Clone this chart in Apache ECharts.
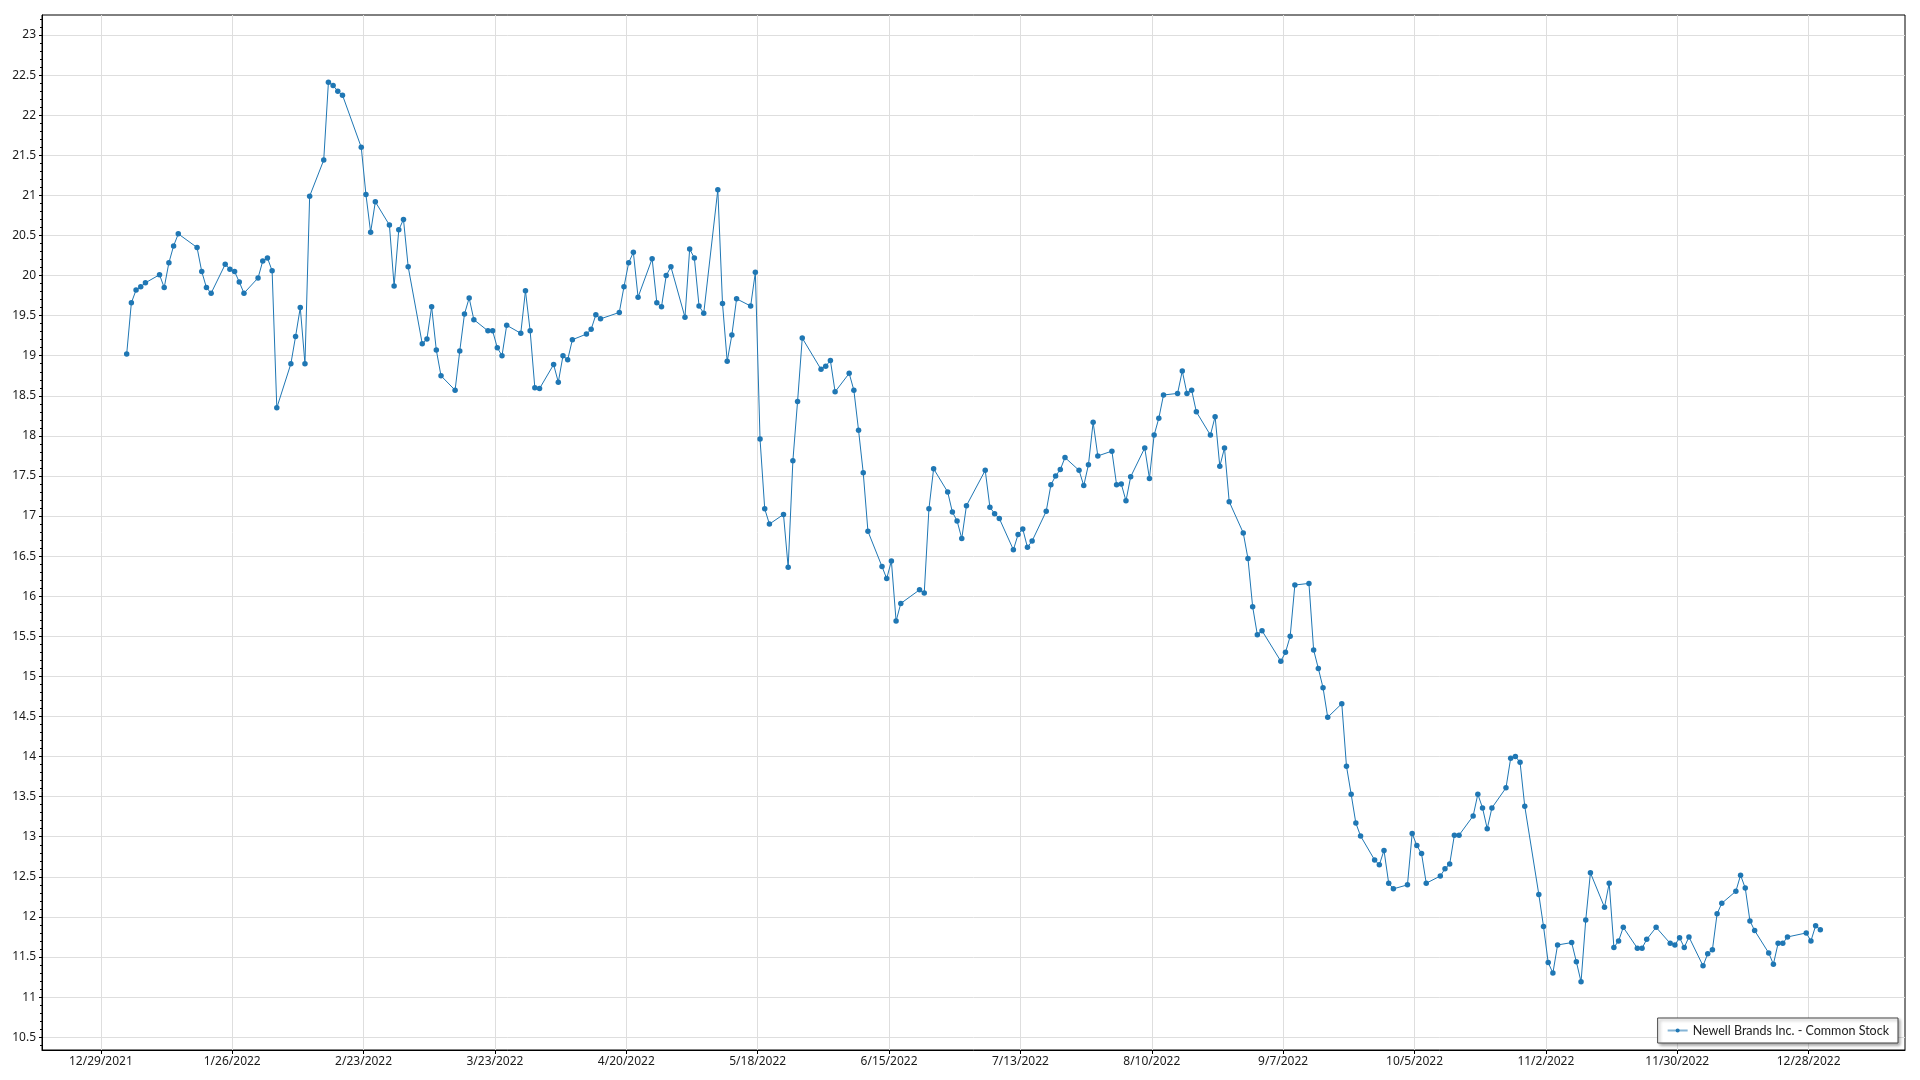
<!DOCTYPE html>
<html>
<head>
<meta charset="utf-8">
<script src="https://cdn.jsdelivr.net/npm/echarts@6/dist/echarts.min.js"></script>
<style>
html,body{margin:0;padding:0;background:#fff;}
#chart{width:1920px;height:1080px;}
</style>
</head>
<body>
<div id="chart"></div>
<script>
const seriesName = 'Newell Brands Inc. - Common Stock';

const janDays = [3,4,5,6,7,10,11,12,13,14,18,19,20,21,24,25,26,27,28,31];
const janClose = [19.02,19.66,19.82,19.86,19.91,20.01,19.85,20.16,20.37,20.52,20.35,20.05,19.85,19.78,20.14,20.08,20.05,19.92,19.78,19.97];
const febDays = [1,2,3,4,7,8,9,10,11,14,15,16,17,18,22,23,24,25,28];
const febClose = [20.18,20.22,20.06,18.35,18.90,19.24,19.60,18.90,20.99,21.44,22.41,22.37,22.30,22.25,21.60,21.01,20.54,20.92,20.63];
const marDays = [1,2,3,4,7,8,9,10,11,14,15,16,17,18,21,22,23,24,25,28,29,30,31];
const marClose = [19.87,20.57,20.70,20.11,19.15,19.21,19.61,19.07,18.75,18.57,19.06,19.52,19.72,19.45,19.31,19.31,19.10,19.00,19.38,19.28,19.81,19.31,18.60];
const aprDays = [1,4,5,6,7,8,11,12,13,14,18,19,20,21,22,25,26,27,28,29];
const aprClose = [18.59,18.89,18.67,19.00,18.95,19.20,19.27,19.33,19.51,19.46,19.54,19.86,20.16,20.29,19.73,20.21,19.66,19.61,20.00,20.11];
const mayDays = [2,3,4,5,6,9,10,11,12,13,16,17,18,19,20,23,24,25,26,27,31];
const mayClose = [19.48,20.33,20.22,19.62,19.53,21.07,19.65,18.93,19.26,19.71,19.62,20.04,17.96,17.09,16.90,17.02,16.36,17.69,18.43,19.22,18.83];
const junDays = [1,2,3,6,7,8,9,10,13,14,15,16,17,21,22,23,24,27,28,29,30];
const junClose = [18.87,18.94,18.55,18.78,18.57,18.07,17.54,16.81,16.37,16.22,16.44,15.69,15.91,16.08,16.04,17.09,17.59,17.30,17.05,16.94,16.72];
const julDays = [1,5,6,7,8,11,12,13,14,15,18,19,20,21,22,25,26,27,28,29];
const julClose = [17.13,17.57,17.11,17.03,16.97,16.58,16.77,16.84,16.61,16.69,17.06,17.39,17.50,17.58,17.73,17.57,17.38,17.64,18.17,17.75];
const augDays = [1,2,3,4,5,8,9,10,11,12,15,16,17,18,19,22,23,24,25,26,29,30,31];
const augClose = [17.81,17.39,17.40,17.19,17.49,17.85,17.47,18.01,18.22,18.51,18.53,18.81,18.53,18.57,18.30,18.01,18.24,17.62,17.85,17.18,16.79,16.47,15.87];
const sepDays = [1,2,6,7,8,9,12,13,14,15,16,19,20,21,22,23,26,27,28,29,30];
const sepClose = [15.52,15.57,15.19,15.30,15.50,16.14,16.16,15.33,15.10,14.86,14.49,14.66,13.88,13.53,13.17,13.01,12.71,12.65,12.83,12.42,12.35];
const octDays = [3,4,5,6,7,10,11,12,13,14,17,18,19,20,21,24,25,26,27,28,31];
const octClose = [12.40,13.04,12.89,12.79,12.42,12.51,12.60,12.66,13.02,13.02,13.26,13.53,13.36,13.10,13.36,13.61,13.98,14.00,13.93,13.38,12.28];
const novDays = [1,2,3,4,7,8,9,10,11,14,15,16,17,18,21,22,23,25,28,29,30];
const novClose = [11.88,11.43,11.30,11.65,11.68,11.44,11.19,11.96,12.55,12.12,12.42,11.62,11.70,11.87,11.61,11.61,11.72,11.87,11.67,11.65,11.74];
const decDays = [1,2,5,6,7,8,9,12,13,14,15,16,19,20,21,22,23,27,28,29,30];
const decClose = [11.62,11.75,11.39,11.54,11.59,12.04,12.17,12.32,12.52,12.36,11.95,11.83,11.55,11.41,11.67,11.67,11.75,11.80,11.70,11.89,11.84];

const xTickLabels = ['12/29/2021','1/26/2022','2/23/2022','3/23/2022','4/20/2022','5/18/2022','6/15/2022','7/13/2022','8/10/2022','9/7/2022','10/5/2022','11/2/2022','11/30/2022','12/28/2022'];
const yTickLabels = [10.5,11,11.5,12,12.5,13,13.5,14,14.5,15,15.5,16,16.5,17,17.5,18,18.5,19,19.5,20,20.5,21,21.5,22,22.5,23];
const yAxisMin = 10.34;
const yAxisMax = 23.25;

const DAY = 86400000;
const monthDays = [janDays,febDays,marDays,aprDays,mayDays,junDays,julDays,augDays,sepDays,octDays,novDays,decDays];
const monthClose = [janClose,febClose,marClose,aprClose,mayClose,junClose,julClose,augClose,sepClose,octClose,novClose,decClose];
const data = [];
monthDays.forEach((days, m) => {
  days.forEach((d, i) => {
    data.push([Date.UTC(2022, m, d) + DAY / 2, monthClose[m][i]]);
  });
});
const firstT = data[0][0], lastT = data[data.length - 1][0];
const padT = (lastT - firstT) * 0.05;

function parseMDY(s) {
  const p = s.split('/').map(Number);
  return Date.UTC(p[2], p[0] - 1, p[1]);
}
const xTickValues = xTickLabels.map(parseMDY);
function fmtDate(v) {
  const d = new Date(v);
  return (d.getUTCMonth() + 1) + '/' + d.getUTCDate() + '/' + d.getUTCFullYear();
}
const yMinorTicks = [];
for (let k = Math.ceil(yAxisMin * 10); k <= Math.floor(yAxisMax * 10); k++) yMinorTicks.push(k / 10);

const font = 'Noto Sans';
const chart = echarts.init(document.getElementById('chart'), null, {renderer: 'canvas'});
chart.setOption({
  animation: false,
  backgroundColor: '#fff',
  grid: {
    left: 42, top: 15, right: 15, bottom: 30,
    show: true, borderColor: '#000', borderWidth: 1, backgroundColor: 'transparent',
    containLabel: false, outerBoundsMode: 'none'
  },
  legend: {
    show: true,
    data: [seriesName],
    right: 22, bottom: 37,
    orient: 'horizontal',
    backgroundColor: '#fff',
    borderColor: '#444', borderWidth: 1, borderRadius: 0,
    padding: [6, 9, 6, 9],
    itemWidth: 20, itemHeight: 5,
    lineStyle: {width: 2, color: 'rgba(31,119,180,0.55)'},
    textStyle: {color: '#222', fontSize: 12.5, fontFamily: 'Lato'},
    shadowColor: 'rgba(0,0,0,0.35)', shadowBlur: 3, shadowOffsetX: 2, shadowOffsetY: 2
  },
  xAxis: {
    type: 'value',
    min: firstT - padT, max: lastT + padT,
    axisLine: {show: true, onZero: false, lineStyle: {color: '#000', width: 1}},
    axisTick: {show: true, length: 4, customValues: xTickValues, lineStyle: {color: '#000'}},
    axisLabel: {customValues: xTickValues, formatter: fmtDate, margin: 6, color: '#1a1a1a', fontSize: 12, fontFamily: font},
    splitLine: {show: true, lineStyle: {color: '#dedede', width: 1}}
  },
  yAxis: [{
    type: 'value', position: 'left',
    min: yAxisMin, max: yAxisMax,
    axisLine: {show: true, onZero: false, lineStyle: {color: '#000', width: 1}},
    axisTick: {show: true, length: 3, customValues: yTickLabels, lineStyle: {color: '#000'}},
    axisLabel: {customValues: yTickLabels, formatter: v => String(v), margin: 6, color: '#1a1a1a', fontSize: 12, fontFamily: font},
    splitLine: {show: true, lineStyle: {color: '#dedede', width: 1}}
  }, {
    type: 'value', position: 'left',
    min: yAxisMin, max: yAxisMax,
    axisLine: {show: false},
    axisTick: {show: true, length: 2, customValues: yMinorTicks, lineStyle: {color: '#000'}},
    axisLabel: {show: false},
    splitLine: {show: false}
  }],
  series: [{
    name: seriesName,
    type: 'line',
    xAxisIndex: 0, yAxisIndex: 0,
    data: data,
    symbol: 'circle', symbolSize: 5.5, showAllSymbol: true,
    itemStyle: {color: '#1f77b4'},
    lineStyle: {color: '#1f77b4', width: 1},
    emphasis: {disabled: true}
  }]
});
</script>
</body>
</html>
